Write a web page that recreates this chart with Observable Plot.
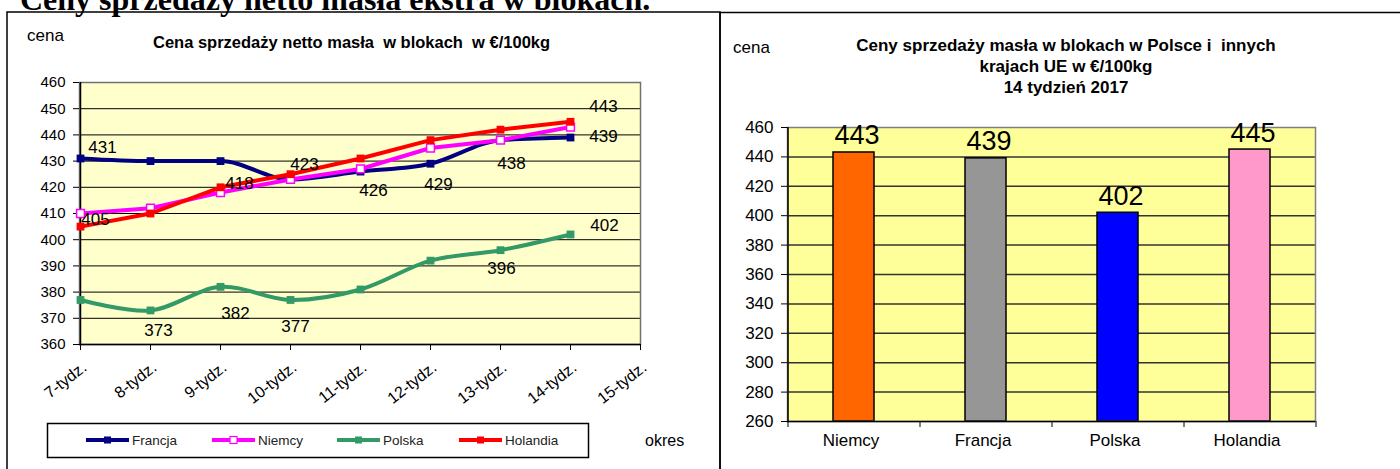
<!DOCTYPE html>
<html><head><meta charset="utf-8">
<script src="https://cdn.jsdelivr.net/npm/d3@7"></script>
<script src="https://cdn.jsdelivr.net/npm/@observablehq/plot@0.6"></script>
<style>
html,body{margin:0;padding:0;background:#fff}
body{width:1400px;height:469px;overflow:hidden;position:relative;font-family:"Liberation Sans",Arial,sans-serif}
#left,#right,#overlay{position:absolute;top:0}
#left{left:0}
#right{left:720px}
#overlay{left:0;pointer-events:none}
#overlay text{white-space:pre}
</style></head><body>
<div id="left"></div>
<div id="right"></div>
<svg id="overlay" width="1400" height="469"></svg>
<script>
// ---------------- DATA ----------------
const pageTitle = "Ceny sprzedaży netto masła ekstra w blokach.";
const leftTitle = "Cena sprzedaży netto masła  w blokach  w €/100kg";
const rightTitleLines = ["Ceny sprzedaży masła w blokach w Polsce i  innych", "krajach UE w €/100kg", "14 tydzień 2017"];
const yAxisName = "cena";
const xAxisName = "okres";

const weeks = ["7-tydz.", "8-tydz.", "9-tydz.", "10-tydz.", "11-tydz.", "12-tydz.", "13-tydz.", "14-tydz.", "15-tydz."];
const seriesNames = ["Francja", "Niemcy", "Polska", "Holandia"];
const francja  = [431, 430, 430, 423, 426, 429, 438, 439];
const niemcy   = [410, 412, 418, 423, 427, 435, 438, 443];
const polska   = [377, 373, 382, 377, 381, 392, 396, 402];
const holandia = [405, 410, 420, 425, 431, 438, 442, 445];
const leftYTicks = [360, 370, 380, 390, 400, 410, 420, 430, 440, 450, 460];
// which points carry a value label: [series, week]
const labelledPoints = [
  ["Francja", "7-tydz."], ["Holandia", "7-tydz."], ["Polska", "8-tydz."],
  ["Niemcy", "9-tydz."], ["Polska", "9-tydz."], ["Francja", "10-tydz."],
  ["Polska", "10-tydz."], ["Francja", "11-tydz."], ["Francja", "12-tydz."],
  ["Francja", "13-tydz."], ["Polska", "13-tydz."], ["Niemcy", "14-tydz."],
  ["Francja", "14-tydz."], ["Polska", "14-tydz."]
];

const barCountries = ["Niemcy", "Francja", "Polska", "Holandia"];
const barValues = [443, 439, 402, 445];
const rightYTicks = [260, 280, 300, 320, 340, 360, 380, 400, 420, 440, 460];

// ---------------- STYLE ----------------
const FONT = "'Liberation Sans', Arial, sans-serif";
const lineColors = {Francja: "#000080", Niemcy: "#FF00FF", Polska: "#339966", Holandia: "#FF0000"};
const markerFill = {Francja: "#000080", Niemcy: "#FFFFFF", Polska: "#339966", Holandia: "#FF0000"};
const lineCurves = {Francja: "monotone-x", Niemcy: "linear", Polska: "catmull-rom", Holandia: "linear"};
const barColors = {Niemcy: "#FF6600", Francja: "#969696", Polska: "#0000FF", Holandia: "#FF99CC"};
// label offsets [dx, dy] keyed by "series|week"
const labelOffsets = {
  "Francja|7-tydz.": [22, -11], "Holandia|7-tydz.": [15, -7], "Polska|8-tydz.": [8, 20],
  "Niemcy|9-tydz.": [19, -9], "Polska|9-tydz.": [15, 27], "Francja|10-tydz.": [14, -15],
  "Polska|10-tydz.": [5, 27], "Francja|11-tydz.": [13, 19], "Francja|12-tydz.": [8, 21],
  "Francja|13-tydz.": [11, 23], "Polska|13-tydz.": [1, 18], "Niemcy|14-tydz.": [33, -20],
  "Francja|14-tydz.": [33, -1], "Polska|14-tydz.": [34, -9]
};

// ---------------- BUILD ----------------
const seriesValues = {Francja: francja, Niemcy: niemcy, Polska: polska, Holandia: holandia};
const rows = seriesNames.flatMap(s => seriesValues[s].map((v, i) => ({series: s, week: weeks[i], value: v})));
const labelRows = labelledPoints.map(([s, w]) => rows.find(r => r.series === s && r.week === w));

const leftMarks = [
  Plot.frame({fill: "#FFFFCC", stroke: null}),
  Plot.ruleY(leftYTicks.slice(1, -1), {stroke: "#000", strokeWidth: 1}),
  Plot.frame({stroke: "#707070", strokeWidth: 1.5}),
  Plot.ruleX([weeks[0]], {stroke: "#000", strokeWidth: 1.5}),
  Plot.ruleY([leftYTicks[0]], {stroke: "#000", strokeWidth: 1.5}),
  Plot.axisY({ticks: leftYTicks, tickSize: 6, tickPadding: 8, fontSize: 15}),
  Plot.axisX({tickSize: 6, tickFormat: () => ""}),
  Plot.axisX({tickSize: 0, tickPadding: 21, tickRotate: -38, textAnchor: "end", lineAnchor: "middle", dx: 4, fontSize: 16})
];
for (const s of seriesNames) {
  const d = rows.filter(r => r.series === s);
  leftMarks.push(Plot.line(d, {x: "week", y: "value", stroke: lineColors[s], strokeWidth: 4, curve: lineCurves[s]}));
  leftMarks.push(Plot.dot(d, {x: "week", y: "value", symbol: "square", r: 4.4,
    fill: markerFill[s], stroke: lineColors[s], strokeWidth: s === "Niemcy" ? 1.5 : 0}));
}
for (const d of labelRows) {
  const [dx, dy] = labelOffsets[d.series + "|" + d.week];
  leftMarks.push(Plot.text([d], {x: "week", y: "value", text: r => String(r.value), dx, dy, fontSize: 17, fill: "#000"}));
}

const leftPlot = Plot.plot({
  width: 720, height: 469,
  marginLeft: 79, marginRight: 80, marginTop: 82, marginBottom: 125,
  style: {background: "transparent", fontFamily: FONT, color: "#000"},
  x: {type: "point", domain: weeks, padding: 0, label: null},
  y: {domain: [leftYTicks[0], leftYTicks[leftYTicks.length - 1]], label: null},
  marks: leftMarks
});
document.getElementById("left").appendChild(leftPlot);

const bars = barCountries.map((c, i) => ({country: c, value: barValues[i]}));
const rW = 680, rML = 67, rMR = 85;
const step = (rW - rML - rMR) / barCountries.length;
const rightPlot = Plot.plot({
  width: rW, height: 469,
  marginLeft: rML, marginRight: rMR, marginTop: 127, marginBottom: 48,
  style: {background: "transparent", fontFamily: FONT, color: "#000"},
  x: {type: "band", domain: barCountries, paddingInner: 0.69, paddingOuter: 0.345, label: null},
  y: {domain: [rightYTicks[0], rightYTicks[rightYTicks.length - 1]], label: null},
  color: {type: "identity"},
  marks: [
    Plot.frame({fill: "#FFFF99", stroke: null}),
    Plot.ruleY(rightYTicks.slice(1, -1), {stroke: "#333", strokeWidth: 1.5}),
    Plot.barY(bars, {x: "country", y1: rightYTicks[0], y2: "value", fill: d => barColors[d.country], stroke: "#000", strokeWidth: 1.5}),
    Plot.frame({stroke: "#808080", strokeWidth: 1.5}),
    Plot.ruleY([rightYTicks[0]], {stroke: "#000", strokeWidth: 1.5}),
    Plot.ruleX([barCountries[0]], {dx: -step / 2, stroke: "#000", strokeWidth: 1.5}),
    Plot.axisY({ticks: rightYTicks, tickSize: 6, tickPadding: 8, fontSize: 17}),
    Plot.axisX({tickSize: 6, tickFormat: () => "", dx: -step / 2}),
    Plot.axisX([barCountries[barCountries.length - 1]], {tickSize: 6, tickFormat: () => "", dx: step / 2}),
    Plot.axisX({tickSize: 0, tickPadding: 12, fontSize: 17, dx: -3}),
    Plot.text(bars, {x: "country", y: "value", text: d => String(d.value), dy: -8, dx: 3, lineAnchor: "bottom", fontSize: 27, fill: "#000"})
  ]
});
document.getElementById("right").appendChild(rightPlot);

// ---------------- OVERLAY: titles, boxes, legend ----------------
const svg = d3.select("#overlay");
svg.append("text").attr("x", 20).attr("y", 10)
  .attr("font-family", "'Liberation Serif','Times New Roman',serif").attr("font-weight", "bold").attr("font-size", 32)
  .text(pageTitle);
svg.append("rect").attr("x", 7).attr("y", 12).attr("width", 713).attr("height", 480)
  .attr("fill", "none").attr("stroke", "#000").attr("stroke-width", 1.5);
svg.append("rect").attr("x", 720).attr("y", 12.5).attr("width", 700).attr("height", 480)
  .attr("fill", "none").attr("stroke", "#000").attr("stroke-width", 1.5);
svg.append("text").attr("x", 27).attr("y", 41).attr("font-family", FONT).attr("font-size", 17).text(yAxisName);
svg.append("text").attr("x", 153).attr("y", 48).attr("font-family", FONT).attr("font-size", 16.5)
  .attr("font-weight", "bold").text(leftTitle);
svg.append("text").attr("x", 645).attr("y", 446).attr("font-family", FONT).attr("font-size", 16).text(xAxisName);
svg.append("text").attr("x", 733).attr("y", 53).attr("font-family", FONT).attr("font-size", 17).text(yAxisName);
rightTitleLines.forEach((t, i) => {
  svg.append("text").attr("x", 1066).attr("y", 51 + i * 21).attr("text-anchor", "middle")
    .attr("font-family", FONT).attr("font-size", 17).attr("font-weight", "bold").text(t);
});
// legend
svg.append("rect").attr("x", 47.5).attr("y", 423.5).attr("width", 541).attr("height", 34)
  .attr("fill", "#fff").attr("stroke", "#000").attr("stroke-width", 1.5);
const legendX = [86, 212, 337, 459];
seriesNames.forEach((s, i) => {
  const x0 = legendX[i], x1 = x0 + 43, cy = 440;
  svg.append("line").attr("x1", x0).attr("x2", x1).attr("y1", cy).attr("y2", cy)
    .attr("stroke", lineColors[s]).attr("stroke-width", 4);
  svg.append("rect").attr("x", (x0 + x1) / 2 - 3.5).attr("y", cy - 3.5).attr("width", 7).attr("height", 7)
    .attr("fill", markerFill[s]).attr("stroke", lineColors[s]).attr("stroke-width", s === "Niemcy" ? 1.2 : 0);
  svg.append("text").attr("x", x1 + 3).attr("y", cy + 5).attr("font-family", FONT).attr("font-size", 13.5)
    .attr("fill", "#222").text(s);
});
</script>
</body></html>
